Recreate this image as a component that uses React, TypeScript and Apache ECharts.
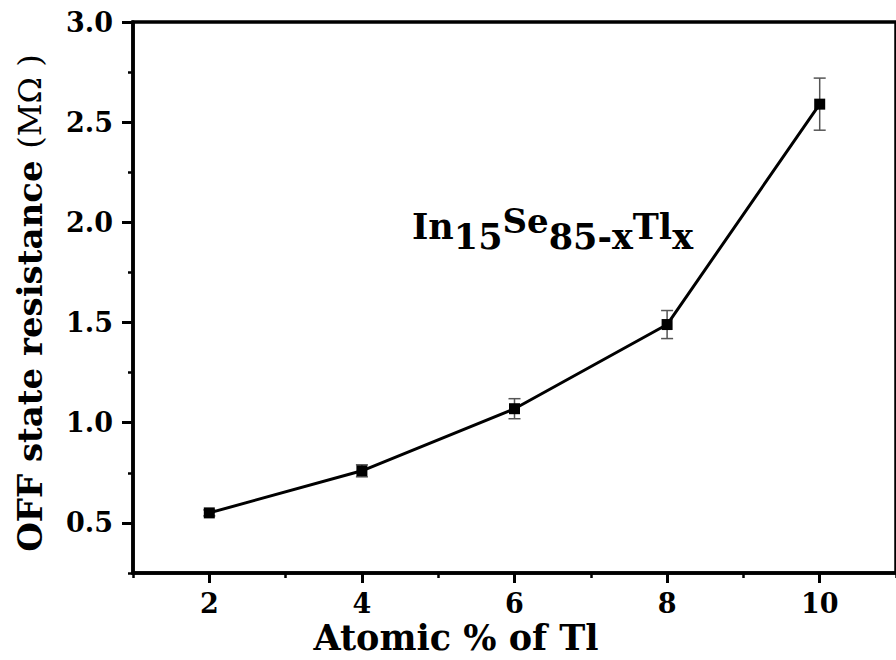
import React, { useEffect, useRef } from "react";
import * as echarts from "echarts";

const xValues = [2, 4, 6, 8, 10];
const resistance = [0.55, 0.76, 1.07, 1.49, 2.59];
const errors = [0.015, 0.03, 0.05, 0.07, 0.13];
const xMajorTicks = [2, 4, 6, 8, 10];
const xMinorTicks = [1, 3, 5, 7, 9, 11];
const yMajorTicks = [0.5, 1.0, 1.5, 2.0, 2.5, 3.0];
const yMinorTicks = [0.25, 0.75, 1.25, 1.75, 2.25, 2.75];

const FONT = "DejaVu Serif";

export default function App() {
  const ref = useRef<HTMLDivElement>(null);
  useEffect(() => {
    if (!ref.current) return;
    const chart = echarts.init(ref.current, null, { renderer: "svg" });
    const lineData = xValues.map((x, i) => [x, resistance[i]]);
    const errData = xValues.map((x, i) => [x, resistance[i] - errors[i], resistance[i] + errors[i]]);
    const axisText = { color: "#000", fontFamily: FONT, fontWeight: "bold" as const, fontSize: 27 };
    chart.setOption({
      animation: false,
      backgroundColor: "#fff",
      grid: {
        left: 133,
        top: 22,
        right: -10,
        bottom: 87,
        show: true,
        borderColor: "#000",
        borderWidth: 3.5,
      },
      xAxis: [
        {
          type: "value",
          min: 1,
          max: 11,
          axisLine: { show: true, onZero: false, lineStyle: { color: "#000", width: 3.5 } },
          axisTick: { show: true, customValues: xMajorTicks, length: 10, lineStyle: { color: "#000", width: 3 } },
          axisLabel: { show: true, customValues: xMajorTicks, margin: 17, ...axisText },
          splitLine: { show: false },
        },
        {
          type: "value",
          min: 1,
          max: 11,
          position: "bottom",
          axisLine: { show: false },
          axisTick: { show: true, customValues: xMinorTicks, length: 5, lineStyle: { color: "#000", width: 2.5 } },
          axisLabel: { show: false },
          splitLine: { show: false },
        },
      ],
      yAxis: [
        {
          type: "value",
          min: 0.25,
          max: 3.0,
          axisLine: { show: true, onZero: false, lineStyle: { color: "#000", width: 3.5 } },
          axisTick: { show: true, customValues: yMajorTicks, length: 11, lineStyle: { color: "#000", width: 3 } },
          axisLabel: {
            show: true,
            customValues: yMajorTicks,
            margin: 20,
            formatter: (v: number) => v.toFixed(1),
            ...axisText,
          },
          splitLine: { show: false },
        },
        {
          type: "value",
          min: 0.25,
          max: 3.0,
          position: "left",
          axisLine: { show: false },
          axisTick: { show: true, customValues: yMinorTicks, length: 5, lineStyle: { color: "#000", width: 2.5 } },
          axisLabel: { show: false },
          splitLine: { show: false },
        },
      ],
      series: [
        {
          type: "custom",
          xAxisIndex: 0,
          yAxisIndex: 0,
          data: errData,
          encode: { x: 0, y: [1, 2] },
          z: 1,
          renderItem: (params: any, api: any) => {
            const x = api.value(0);
            const lo = api.coord([x, api.value(1)]);
            const hi = api.coord([x, api.value(2)]);
            const hw = 6;
            const st = { stroke: "#555", lineWidth: 1.5 };
            return {
              type: "group",
              children: [
                { type: "line", shape: { x1: lo[0], y1: lo[1], x2: hi[0], y2: hi[1] }, style: st },
                { type: "line", shape: { x1: lo[0] - hw, y1: lo[1], x2: lo[0] + hw, y2: lo[1] }, style: st },
                { type: "line", shape: { x1: hi[0] - hw, y1: hi[1], x2: hi[0] + hw, y2: hi[1] }, style: st },
              ],
            };
          },
        },
        {
          type: "line",
          xAxisIndex: 0,
          yAxisIndex: 0,
          data: lineData,
          symbol: "rect",
          symbolSize: 11,
          z: 3,
          itemStyle: { color: "#000" },
          lineStyle: { color: "#000", width: 3 },
        },
      ],
      graphic: [
        {
          type: "text",
          x: 30,
          y: 303,
          rotation: Math.PI / 2,
          style: {
            text: "{b|OFF state resistance }{n|(MΩ )}",
            align: "center",
            verticalAlign: "middle",
            rich: {
              b: { fontFamily: FONT, fontWeight: "bold", fontSize: 34, fill: "#000" },
              n: { fontFamily: FONT, fontWeight: "normal", fontSize: 32, fill: "#000" },
            },
          },
        },
        {
          type: "text",
          x: 456,
          y: 637,
          style: {
            text: "Atomic % of Tl",
            align: "center",
            verticalAlign: "middle",
            fontFamily: FONT,
            fontWeight: "bold",
            fontSize: 35,
            fill: "#000",
          },
        },
        {
          type: "text",
          x: 412,
          y: 226,
          style: {
            text: "{a|In}{s|15}{p|Se}{s|85-x}{a|Tl}{s|x}",
            align: "left",
            verticalAlign: "middle",
            rich: {
              a: { fontFamily: FONT, fontWeight: "bold", fontSize: 35, fill: "#000" },
              s: { fontFamily: FONT, fontWeight: "bold", fontSize: 35, fill: "#000", padding: [20, 0, 0, 0] },
              p: { fontFamily: FONT, fontWeight: "bold", fontSize: 34, fill: "#000", padding: [0, 0, 10, 0] },
            },
          },
        },
      ],
    });
    return () => chart.dispose();
  }, []);
  return <div ref={ref} style={{ position: "fixed", left: 0, top: 0, width: 896, height: 660 }} />;
}
